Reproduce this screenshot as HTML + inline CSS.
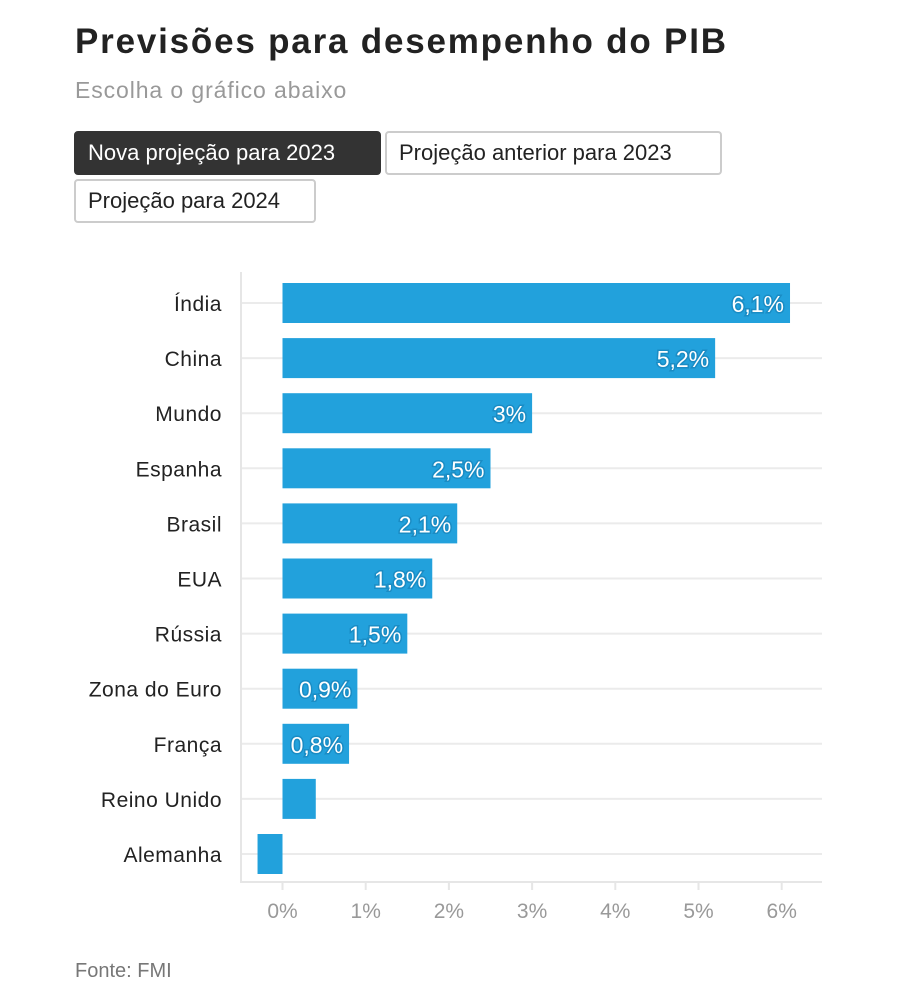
<!DOCTYPE html>
<html><head><meta charset="utf-8">
<style>
body{margin:0;background:#fff;font-family:"Liberation Sans",sans-serif;width:915px;height:1000px;overflow:hidden;position:relative}
h1{position:absolute;left:75px;top:22px;margin:0;font-size:35px;font-weight:bold;color:#222;letter-spacing:1.8px}
.sub{position:absolute;left:75px;top:77px;font-size:23px;color:#999;letter-spacing:0.9px}
.btn{position:absolute;height:44px;box-sizing:border-box;border:2px solid #ccc;border-radius:4px;font-size:22px;line-height:40px;padding:0 12px;color:#222;background:#fff}
.btn.on{background:#333;color:#fff;border-color:#333}
.src{position:absolute;left:75px;top:960px;font-size:20px;color:#777}
svg{position:absolute;left:0;top:0}
</style></head><body>
<h1>Previsões para desempenho do PIB</h1>
<div class="sub">Escolha o gráfico abaixo</div>
<div class="btn on" style="left:74px;top:131px;width:307px">Nova projeção para 2023</div>
<div class="btn" style="left:385px;top:131px;width:337px">Projeção anterior para 2023</div>
<div class="btn" style="left:74px;top:179px;width:242px">Projeção para 2024</div>
<svg id="chart" width="915" height="1000"></svg>
<div class="src">Fonte: FMI</div>
<script>
const categories=["Índia","China","Mundo","Espanha","Brasil","EUA","Rússia","Zona do Euro","França","Reino Unido","Alemanha"];
const values=[6.1,5.2,3,2.5,2.1,1.8,1.5,0.9,0.8,0.4,-0.3];
const valueLabels=["6,1%","5,2%","3%","2,5%","2,1%","1,8%","1,5%","0,9%","0,8%","",""];
const ticks=[0,1,2,3,4,5,6];
const tickLabels=["0%","1%","2%","3%","4%","5%","6%"];
const NS="http://www.w3.org/2000/svg";
const svg=document.getElementById('chart');
const x=v=>282.5+v*83.2;
const y=i=>303+i*55.1;
function mk(t,a,p){const e=document.createElementNS(NS,t);for(const k in a)e.setAttribute(k,a[k]);(p||svg).appendChild(e);return e;}
categories.forEach((c,i)=>{
 const g=mk('line',{x1:240,x2:822,y1:y(i),y2:y(i),stroke:'#ebebeb','stroke-width':2});
 
 
});
const ax=mk('path',{d:'M241 272 V882 H822',fill:'none',stroke:'#e6e6e6','stroke-width':2});


ticks.forEach((t,i)=>{
 const tk=mk('line',{x1:x(t),x2:x(t),y1:882,y2:890,stroke:'#e6e6e6','stroke-width':2});
 
 
 const tl=mk('text',{x:x(t),y:918,'text-anchor':'middle','font-size':21,fill:'#999'});
 tl.textContent=tickLabels[i];
 
 
});
categories.forEach((c,i)=>{
 const lb=mk('text',{x:222,y:y(i)+8,'text-anchor':'end','font-size':21,fill:'#222','letter-spacing':0.5});
 lb.textContent=c;
 
 
 const v=values[i];
 const x1=Math.min(x(0),x(v)),w=Math.abs(x(v)-x(0));
 const b=mk('rect',{x:x1,y:y(i)-20,width:w,height:40,fill:'#22a1dc'});
 
 
 if(valueLabels[i]){
  const t=mk('text',{x:x(v)-6,y:y(i)+9,'text-anchor':'end','font-size':23,fill:'#fff',stroke:'#1a8cc4','stroke-width':3,'paint-order':'stroke'});
  t.textContent=valueLabels[i];
  
  
 }
});
</script>
</body></html>
